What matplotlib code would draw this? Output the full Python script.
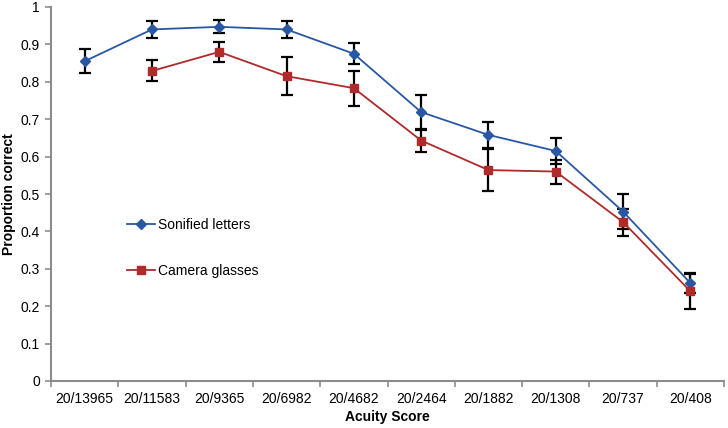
import numpy as np
import matplotlib.pyplot as plt
from matplotlib import rcParams

rcParams['font.family'] = ['Liberation Sans', 'DejaVu Sans']

BLUE = '#2957A4'
RED = '#B02A2A'
GREY = '#8C8C8C'

# ── Datos ──
acuity = ['20/13965', '20/11583', '20/9365', '20/6982', '20/4682',
          '20/2464', '20/1882', '20/1308', '20/737', '20/408']
sonified = [0.855, 0.940, 0.947, 0.940, 0.875, 0.719, 0.658, 0.615, 0.453, 0.262]
sonified_err = [0.032, 0.023, 0.017, 0.023, 0.028, 0.047, 0.035, 0.036, 0.047, 0.028]
camera = [np.nan, 0.829, 0.880, 0.815, 0.783, 0.643, 0.564, 0.560, 0.425, 0.240]
camera_err = [np.nan, 0.028, 0.027, 0.050, 0.047, 0.032, 0.057, 0.032, 0.036, 0.047]

x = np.arange(len(acuity))

fig = plt.figure(figsize=(7.28, 4.28), dpi=100)
ax = fig.add_axes([51/728, 1 - 381/428, 673/728, 374/428])

ax.errorbar(x, sonified, yerr=sonified_err, color=BLUE, marker='D', markersize=5.5,
            linewidth=1.3, ecolor='black', elinewidth=1.6, capsize=4, capthick=1.6,
            label='Sonified letters', zorder=3)
ax.errorbar(x, camera, yerr=camera_err, color=RED, marker='s', markersize=5.5,
            linewidth=1.3, ecolor='black', elinewidth=1.6, capsize=4, capthick=1.6,
            label='Camera glasses', zorder=3)

ax.set_xlim(-0.5, len(acuity) - 0.5)
ax.set_ylim(0, 1)
ax.set_yticks(np.arange(0, 1.01, 0.1))
ax.set_yticklabels(['0', '0.1', '0.2', '0.3', '0.4', '0.5', '0.6', '0.7', '0.8', '0.9', '1'])
ax.set_xticks(x)
ax.set_xticklabels(acuity)
ax.set_xticks(np.arange(-0.5, len(acuity)), minor=True)
ax.tick_params(axis='x', which='major', length=0, pad=8, labelsize=10)
ax.tick_params(axis='x', which='minor', length=4, color=GREY, width=1.2)
ax.tick_params(axis='y', length=4, color=GREY, width=1.2, labelsize=10, pad=4)

for s in ['top', 'right']:
    ax.spines[s].set_visible(False)
for s in ['left', 'bottom']:
    ax.spines[s].set_color(GREY)
    ax.spines[s].set_linewidth(1.5)

ax.set_xlabel('Acuity Score', fontsize=10, fontweight='bold', labelpad=3)
ax.set_ylabel('Proportion correct', fontsize=10, fontweight='bold', labelpad=3)

handles, labels = ax.get_legend_handles_labels()
handles = [h[0] for h in handles]
ax.legend(handles, labels, loc='upper left', bbox_to_anchor=(0.095, 0.47),
          frameon=False, fontsize=10, handlelength=2.0, handletextpad=0.2,
          labelspacing=2.3)

fig.savefig('out.png', dpi=100)
